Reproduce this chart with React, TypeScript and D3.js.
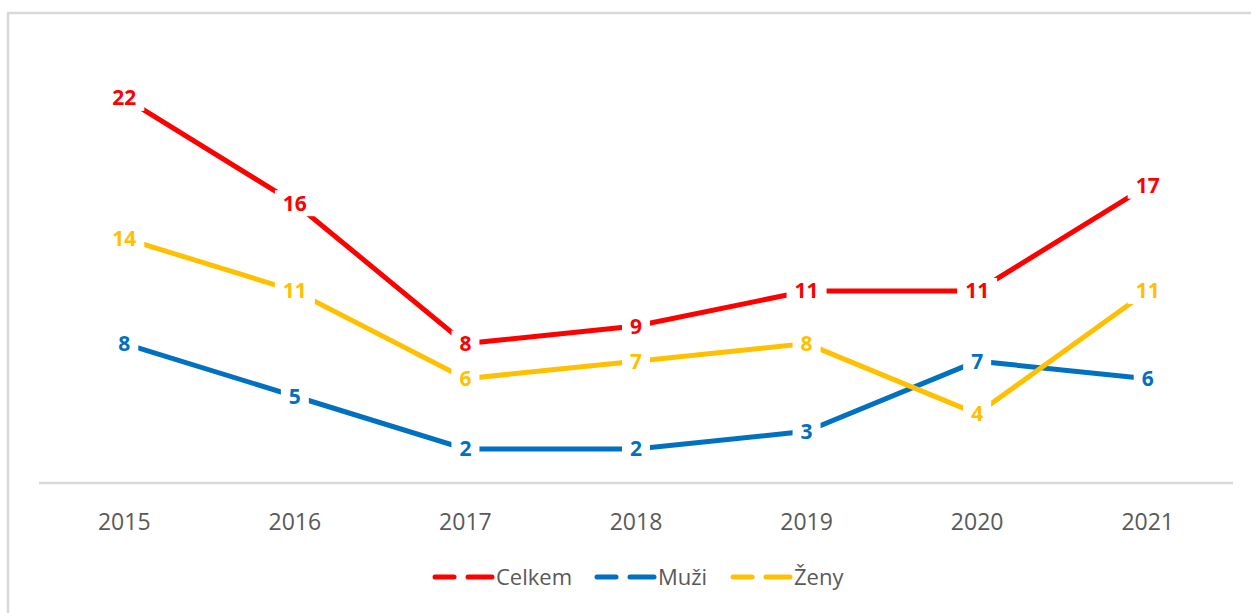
import React from "react";
import * as d3 from "d3";

const years = ["2015", "2016", "2017", "2018", "2019", "2020", "2021"];
const celkem = [22, 16, 8, 9, 11, 11, 17];
const muzi = [8, 5, 2, 2, 3, 7, 6];
const zeny = [14, 11, 6, 7, 8, 4, 11];
const seriesNames = ["Celkem", "Muži", "Ženy"];
const seriesColors = ["#FF0000", "#0070C0", "#FFC000"];

const W = 1251;
const H = 613;

export default function App() {
  const series = [celkem, muzi, zeny];
  const x = d3.scalePoint<string>().domain(years).range([39, 1233]).padding(0.5);
  const y = d3.scaleLinear().domain([0, 25]).range([484, 484 - 25 * 17.55]);
  const line = d3
    .line<number>()
    .x((_, i) => x(years[i]) as number)
    .y((d) => y(d));

  const legendX = [435, 597, 733];
  const legendY = 577;

  return (
    <svg
      width={W}
      height={H}
      style={{ position: "absolute", left: 0, top: 0, display: "block", background: "#fff" }}
      fontFamily="'Open Sans', sans-serif"
    >
      <rect x={8} y={13} width={1300} height={700} fill="#fff" stroke="#D9D9D9" strokeWidth={2.5} />
      <line x1={39} x2={1233} y1={483} y2={483} stroke="#D9D9D9" strokeWidth={2.5} />
      {years.map((yr) => (
        <text
          key={yr}
          x={x(yr)}
          y={530}
          textAnchor="middle"
          fontSize={23}
          fill="#595959"
        >
          {yr}
        </text>
      ))}
      {series.map((s, si) => (
        <path
          key={"l" + si}
          d={line(s) || ""}
          fill="none"
          stroke={seriesColors[si]}
          strokeWidth={5}
          strokeLinecap="round"
        />
      ))}
      {series.map((s, si) =>
        s.map((v, i) => {
          const cx = x(years[i]) as number;
          const cy = y(v);
          const w = String(v).length * 12 + 16;
          return (
            <g key={"lab" + si + "-" + i}>
              <rect x={cx - w / 2} y={cy - 13} width={w} height={26} fill="#fff" />
              <text
                x={cx}
                y={cy + 7.5}
                textAnchor="middle"
                fontSize={21}
                fontWeight="bold"
                fill={seriesColors[si]}
              >
                {v}
              </text>
            </g>
          );
        })
      )}
      {seriesNames.map((name, si) => (
        <g key={"lg" + si}>
          <line
            x1={legendX[si]}
            x2={legendX[si] + 19}
            y1={legendY}
            y2={legendY}
            stroke={seriesColors[si]}
            strokeWidth={5}
            strokeLinecap="round"
          />
          <line
            x1={legendX[si] + 33}
            x2={legendX[si] + 57}
            y1={legendY}
            y2={legendY}
            stroke={seriesColors[si]}
            strokeWidth={5}
            strokeLinecap="round"
          />
          <text x={legendX[si] + 61} y={legendY + 8} fontSize={22} fill="#595959">
            {name}
          </text>
        </g>
      ))}
    </svg>
  );
}
